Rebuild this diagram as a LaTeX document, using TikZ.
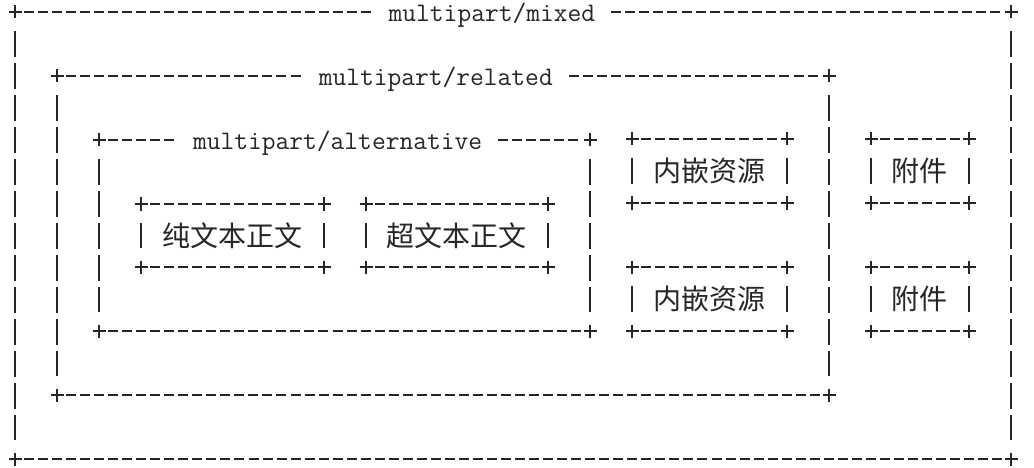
\documentclass[tikz,border=0pt]{standalone}
\usepackage{fontspec}
\newfontfamily\cjk{Noto Sans CJK SC}
\usetikzlibrary{calc}
\definecolor{ink}{HTML}{262626}
\tikzset{
  frame/.style={draw=ink, line width=2.2pt},
  hdash/.style={frame, dash pattern=on 10pt off 4.03pt},
  vdash/.style={frame, line width=2.4pt, dash pattern=on 26pt off 6pt},
  title/.style={font=\ttfamily\fontsize{26.72pt}{32pt}\selectfont\addfontfeature{FakeBold=1.4},
    text=ink, inner sep=0pt, anchor=base},
  cjklabel/.style={font=\cjk\fontsize{28pt}{32pt}\selectfont, text=ink, inner sep=0pt}
}
% name, x1, y1, x2, y2 : corners, plus marks, side bars and bottom border
\newcommand\asciicorners[5]{%
  \coordinate (#1-tl) at (#2,#3); \coordinate (#1-tr) at (#4,#3);
  \coordinate (#1-bl) at (#2,#5); \coordinate (#1-br) at (#4,#5);
  \foreach \k in {tl,tr,bl,br}
    \draw[frame] (#1-\k) +(-6.5,0) -- +(6.5,0) +(0,-6.5) -- +(0,6.5);
  \draw[vdash] ($(#1-tl)+(0,19)$) -- ($(#1-bl)+(0,-19)$);
  \draw[vdash] ($(#1-tr)+(0,19)$) -- ($(#1-br)+(0,-19)$);
  \draw[hdash] ($(#1-bl)+(9.03,0)$) -- ($(#1-br)+(-9.03,0)$);
}
\newcommand\asciiplaintop[1]{%
  \draw[hdash] ($(#1-tl)+(9.03,0)$) -- ($(#1-tr)+(-9.03,0)$);}
\newcommand\asciititledtop[2]{%
  \draw[hdash] ($(#1-tl)+(9.03,0)$) -- ($(#1-tl -| #2.west)+(-16.05,0)$);
  \draw[hdash] ($(#1-tr -| #2.east)+(16.05,0)$) -- ($(#1-tr)+(-9.03,0)$);}
\begin{document}
\begin{tikzpicture}[x=1pt, y=-1pt]
\useasboundingbox (0,0) rectangle (1034,468);
\fill[white] (0,0) rectangle (1034,468);

% boxes
\asciicorners{mixed}{15}{12}{1011}{459}
\asciicorners{related}{57}{76}{829}{395}
\asciicorners{alt}{99}{140}{590}{331}
\asciicorners{plainb}{141}{204}{324}{267}
\asciicorners{htmlb}{366}{204}{548}{267}
\asciicorners{inlineA}{632}{139}{787}{203}
\asciicorners{inlineB}{632}{267}{787}{331}
\asciicorners{attachA}{871}{139}{969}{203}
\asciicorners{attachB}{871}{267}{969}{331}

% titles
\node[title] (tmixed) at (491.9,21.5) {multipart/mixed};
\node[title] (trelated) at (435.8,85.5) {multipart/related};
\node[title] (talt) at (337.6,149.5) {multipart/alternative};
\asciititledtop{mixed}{tmixed}
\asciititledtop{related}{trelated}
\asciititledtop{alt}{talt}

% leaf boxes
\asciiplaintop{plainb}
\asciiplaintop{htmlb}
\asciiplaintop{inlineA}
\asciiplaintop{inlineB}
\asciiplaintop{attachA}
\asciiplaintop{attachB}
\node[cjklabel] (lplain) at (232.4,235.5) {纯文本正文};
\node[cjklabel] (lhtml) at (456.8,235.5) {超文本正文};
\node[cjklabel] (linlineA) at (709.4,171) {内嵌资源};
\node[cjklabel] (linlineB) at (709.4,299) {内嵌资源};
\node[cjklabel] (lattachA) at (919.8,171) {附件};
\node[cjklabel] (lattachB) at (919.8,299) {附件};
\end{tikzpicture}
\end{document}
